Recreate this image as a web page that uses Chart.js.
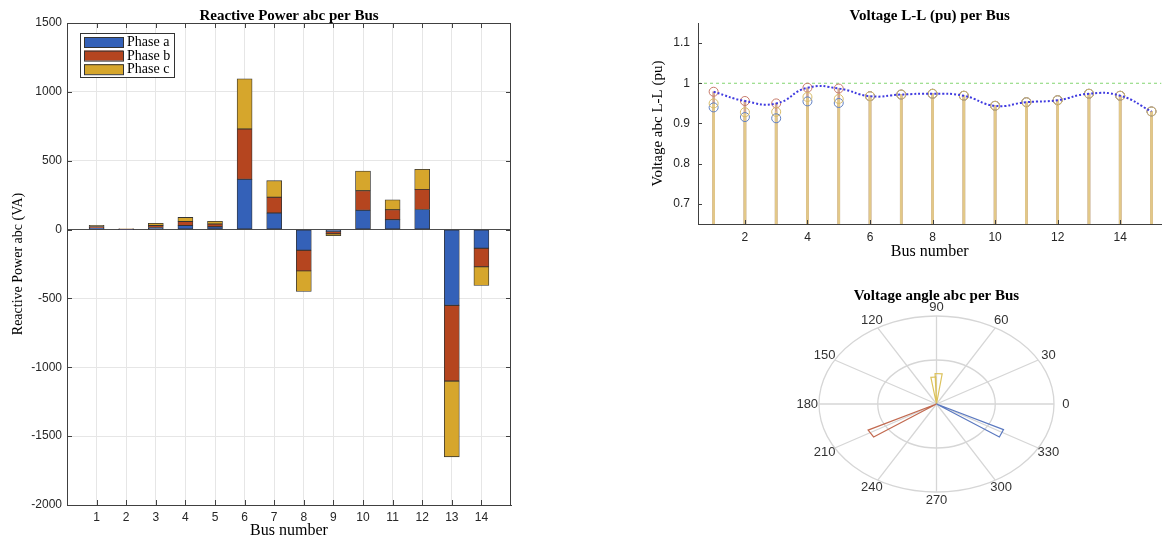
<!DOCTYPE html>
<html><head><meta charset="utf-8">
<script src="https://cdn.jsdelivr.net/npm/chart.js@4.4.1/dist/chart.umd.min.js"></script>
<style>
html,body{margin:0;padding:0;background:#fff;width:1167px;height:540px;overflow:hidden;}
canvas{position:absolute;}
</style></head><body>
<canvas id="c1" width="530" height="540" style="left:0;top:0"></canvas>
<canvas id="c2" width="547" height="270" style="left:620px;top:0"></canvas>
<canvas id="c3" width="320" height="260" style="left:760px;top:280px"></canvas>
<script>
// ---------- DATA ----------
// Reactive power per bus (VA), per phase
const buses   = [1,2,3,4,5,6,7,8,9,10,11,12,13,14];
const qPhaseA = [10, 2, 15, 30, 20, 365, 120, -150, -15, 140, 72, 146, -550, -135];
const qPhaseB = [12, 2, 15, 28, 20, 365, 115, -150, -15, 142, 72, 146, -550, -135];
const qPhaseC = [ 8, 1, 15, 30, 20, 365, 120, -150, -15, 143, 72, 146, -550, -135];
const qTicks  = [-2000,-1500,-1000,-500,0,500,1000,1500];
const phaseLabels = ['Phase a','Phase b','Phase c'];

// Voltage L-L (pu) per bus, per phase
const vBuses  = [1,2,3,4,5,6,7,8,9,10,11,12,13,14,15];
const vPhaseA = [0.940,0.916,0.913,0.955,0.951,0.968,0.972,0.974,0.969,0.944,0.953,0.958,0.974,0.969,0.930];
const vPhaseB = [0.979,0.956,0.950,0.989,0.987,0.968,0.972,0.974,0.969,0.944,0.953,0.958,0.974,0.969,0.930];
const vPhaseC = [0.950,0.928,0.929,0.966,0.961,0.968,0.972,0.974,0.969,0.944,0.953,0.958,0.974,0.969,0.930];
const vTicksX = [2,4,6,8,10,12,14];
const vTicksY = [0.7,0.8,0.9,1,1.1];
const vNominal = 1.0;

// Voltage angle compass (degrees, magnitude)
const angleTicks = [0,30,60,90,120,150,180,210,240,270,300,330];
const angA = [-27, -35], magA = [0.96, 0.98];
const angB = [207, 215], magB = [0.98, 0.98];
const angC = [82, 92, 91, 99], magC = [0.52, 0.52, 0.46, 0.46];
const compassRings = [0.75, 1.5];

// ---------- STYLE ----------
const COL_A = '#3461b8', COL_B = '#b5451f', COL_C = '#d6a62c';
const SANS = 'Liberation Sans', SERIF = 'Liberation Serif';
Chart.defaults.font.family = SANS;
Chart.defaults.color = '#262626';

// ---------- PLUGINS ----------
const areaTitle = {
  id: 'areaTitle',
  afterDraw(chart, args, o) {
    if (!o || !o.text) return;
    const {ctx, chartArea: a} = chart;
    ctx.save();
    ctx.font = 'bold 15px "' + SERIF + '"';
    ctx.fillStyle = '#000';
    ctx.textAlign = 'center'; ctx.textBaseline = 'middle';
    ctx.fillText(o.text, (a.left + a.right) / 2, o.y);
    ctx.restore();
  }
};

const frameTicks = {
  id: 'frameTicks',
  afterDatasetsDraw(chart, args, o) {
    if (!o || !o.enabled) return;
    const {ctx, chartArea: a, scales: {x, y}} = chart;
    const L = o.len;
    ctx.save();
    ctx.strokeStyle = o.color; ctx.lineWidth = 1;
    ctx.beginPath();
    if (o.box) {
      ctx.moveTo(a.left, a.top + 0.5); ctx.lineTo(a.right, a.top + 0.5);
      ctx.moveTo(a.right - 0.5, a.top); ctx.lineTo(a.right - 0.5, a.bottom);
    }
    x.ticks.forEach(t => {
      const px = Math.round(x.getPixelForValue(t.value)) + 0.5;
      ctx.moveTo(px, a.bottom); ctx.lineTo(px, a.bottom - L);
      if (o.box) { ctx.moveTo(px, a.top); ctx.lineTo(px, a.top + L); }
    });
    y.ticks.forEach(t => {
      const py = Math.round(y.getPixelForValue(t.value)) + 0.5;
      ctx.moveTo(a.left, py); ctx.lineTo(a.left + L, py);
      if (o.box) { ctx.moveTo(a.right, py); ctx.lineTo(a.right - L, py); }
    });
    ctx.stroke();
    ctx.restore();
  }
};

const boxLegend = {
  id: 'boxLegend',
  afterDraw(chart, args, o) {
    if (!o || !o.enabled) return;
    const {ctx} = chart;
    ctx.save();
    ctx.fillStyle = '#fff';
    ctx.fillRect(o.x, o.y, o.w, o.h);
    ctx.strokeStyle = '#333'; ctx.lineWidth = 1;
    ctx.strokeRect(o.x + 0.5, o.y + 0.5, o.w, o.h);
    ctx.font = '14px "' + SERIF + '"';
    ctx.textAlign = 'left'; ctx.textBaseline = 'middle';
    chart.data.datasets.forEach((ds, i) => {
      const cy = o.y + o.first + i * o.step;
      ctx.fillStyle = ds.backgroundColor;
      ctx.fillRect(o.x + 4, cy - 5, 39, 10);
      ctx.strokeStyle = '#333';
      ctx.strokeRect(o.x + 4.5, cy - 4.5, 39, 10);
      ctx.fillStyle = '#000';
      ctx.fillText(ds.label, o.x + 47, cy + 0.5);
    });
    ctx.restore();
  }
};

const polarGrid = {
  id: 'polarGrid',
  beforeDatasetsDraw(chart, args, o) {
    if (!o || !o.enabled) return;
    const {ctx, scales: {x, y}} = chart;
    const cx = x.getPixelForValue(0), cy = y.getPixelForValue(0);
    ctx.save();
    ctx.strokeStyle = '#d6d6d6'; ctx.lineWidth = 1.3;
    o.rings.forEach(r => {
      const rx = x.getPixelForValue(r) - cx, ry = cy - y.getPixelForValue(r);
      ctx.beginPath(); ctx.ellipse(cx, cy, rx, ry, 0, 0, Math.PI * 2); ctx.stroke();
    });
    const rMax = Math.max(...o.rings);
    o.angles.forEach(d => {
      const t = d * Math.PI / 180;
      ctx.beginPath(); ctx.moveTo(cx, cy);
      ctx.lineTo(x.getPixelForValue(rMax * Math.cos(t)), y.getPixelForValue(rMax * Math.sin(t)));
      ctx.stroke();
    });
    ctx.fillStyle = '#333';
    ctx.font = '13px "' + SANS + '"';
    ctx.textAlign = 'center'; ctx.textBaseline = 'middle';
    o.angles.forEach(d => {
      const t = d * Math.PI / 180;
      ctx.fillText(String(d), x.getPixelForValue(1.1 * rMax * Math.cos(t)), y.getPixelForValue(1.1 * rMax * Math.sin(t)));
    });
    ctx.restore();
  }
};

const noInteract = {responsive: false, animation: false, devicePixelRatio: 1, events: []};

// ---------- CHART 1: Reactive power ----------
function barDs(label, vals, color) {
  return {label, data: buses.map((b, i) => ({x: b, y: vals[i]})), backgroundColor: color,
    borderColor: '#333', borderWidth: 0.8, borderSkipped: false, barThickness: 15};
}
new Chart(document.getElementById('c1'), {
  type: 'bar',
  data: {datasets: [barDs(phaseLabels[0], qPhaseA, COL_A), barDs(phaseLabels[1], qPhaseB, COL_B), barDs(phaseLabels[2], qPhaseC, COL_C)]},
  options: Object.assign({}, noInteract, {
    layout: {padding: {top: 23, right: 19, left: 0, bottom: 0}},
    plugins: {
      legend: {display: false}, tooltip: {enabled: false},
      areaTitle: {text: 'Reactive Power abc per Bus', y: 16},
      frameTicks: {enabled: true, box: true, len: 5, color: '#404040'},
      boxLegend: {enabled: true, x: 80, y: 33, w: 94, h: 44, first: 9, step: 13.6}
    },
    scales: {
      x: {type: 'linear', min: 0, max: 15, stacked: true, offset: false,
        afterBuildTicks: s => { s.ticks = buses.map(v => ({value: v})); },
        afterFit: s => { s.height = 35; },
        grid: {color: '#e6e6e6', drawTicks: false, offset: false},
        border: {color: '#404040'},
        ticks: {padding: 5, color: '#262626', font: {size: 12}, callback: v => String(v), maxRotation: 0, autoSkip: false},
        title: {display: true, text: 'Bus number', color: '#000', font: {family: SERIF, size: 16}, padding: 0}},
      y: {type: 'linear', min: -2000, max: 1500, stacked: true,
        afterBuildTicks: s => { s.ticks = qTicks.map(v => ({value: v})); },
        afterFit: s => { s.width = 67; },
        grid: {color: c => (c.tick && c.tick.value === 0) ? '#4d4d4d' : '#e6e6e6', drawTicks: false},
        border: {color: '#404040'},
        ticks: {padding: 5, color: '#262626', font: {size: 12}, callback: v => String(v)},
        title: {display: true, text: 'Reactive Power abc (VA)', color: '#000', font: {family: SERIF, size: 14}, padding: {top: 10, bottom: 0}}}
    }
  }),
  plugins: [areaTitle, frameTicks, boxLegend]
});

// ---------- CHART 2: Voltage ----------
const vYMin = 0.65, vYMax = 1.15, vXMin = 0.5, vXMax = 15.32;
const pts = vals => vBuses.map((b, i) => ({x: b, y: vals[i]}));
const stems = vals => vBuses.map((b, i) => ({x: b, y: [vYMin, vals[i]]}));
function circ(vals, color, order) {
  return {type: 'scatter', data: pts(vals), pointStyle: 'circle', pointRadius: 4.5, pointBorderWidth: 1,
    pointBorderColor: color, pointBackgroundColor: 'rgba(0,0,0,0)', showLine: false, order};
}
function stem(vals, color, order) {
  return {type: 'bar', data: stems(vals), backgroundColor: color, borderWidth: 0, barThickness: 2, grouped: false, order};
}
new Chart(document.getElementById('c2'), {
  type: 'scatter',
  data: {datasets: [
    {type: 'line', data: pts(vPhaseB), borderColor: '#3f3ae0', borderWidth: 2, borderDash: [2, 2], tension: 0.5, pointRadius: 0, fill: false, order: 0},
    circ(vPhaseC, '#d8bb66', 1),
    circ(vPhaseA, '#5f7fc2', 2),
    circ(vPhaseB, '#c77a6a', 3),
    stem(vPhaseC, '#e2c888', 4),
    stem(vPhaseB, '#d2a892', 5),
    stem(vPhaseA, '#aab6d6', 6),
    {type: 'line', data: [{x: vXMin, y: vNominal}, {x: vXMax, y: vNominal}], borderColor: '#97dc88', borderWidth: 1.2, borderDash: [3, 3], pointRadius: 0, fill: false, order: 7}
  ]},
  options: Object.assign({}, noInteract, {
    layout: {padding: {top: 23, right: 0, left: 0, bottom: 0}},
    plugins: {
      legend: {display: false}, tooltip: {enabled: false},
      areaTitle: {text: 'Voltage L-L (pu) per Bus', y: 16},
      frameTicks: {enabled: true, box: false, len: 4, color: '#404040'}
    },
    scales: {
      x: {type: 'linear', min: vXMin, max: vXMax, offset: false,
        afterBuildTicks: s => { s.ticks = vTicksX.map(v => ({value: v})); },
        afterFit: s => { s.height = 46; },
        grid: {display: false, drawTicks: false, offset: false},
        border: {color: '#404040'},
        ticks: {padding: 6, color: '#262626', font: {size: 12}, callback: v => String(v), maxRotation: 0, autoSkip: false},
        title: {display: true, text: 'Bus number', color: '#000', font: {family: SERIF, size: 16}, padding: {top: 0, bottom: 9}}},
      y: {type: 'linear', min: vYMin, max: vYMax, beginAtZero: false,
        afterBuildTicks: s => { s.ticks = vTicksY.map(v => ({value: v})); },
        afterFit: s => { s.width = 78; },
        grid: {display: false, drawTicks: false},
        border: {color: '#404040'},
        ticks: {padding: 8, color: '#262626', font: {size: 12}, callback: v => String(v)},
        title: {display: true, text: 'Voltage abc L-L (pu)', color: '#000', font: {family: SERIF, size: 15}, padding: {top: 29, bottom: 0}}}
    }
  }),
  plugins: [areaTitle, frameTicks]
});

// ---------- CHART 3: Voltage angle compass ----------
const R = Math.max(...compassRings);
function wedge(angs, mags) {
  const out = [];
  for (let i = 0; i < angs.length; i += 2) {
    out.push({x: 0, y: 0});
    for (let k = i; k < i + 2; k++) {
      const t = angs[k] * Math.PI / 180;
      out.push({x: mags[k] * Math.cos(t), y: mags[k] * Math.sin(t)});
    }
    out.push({x: 0, y: 0});
  }
  return out;
}
function wedgeDs(angs, mags, color) {
  return {type: 'line', data: wedge(angs, mags), borderColor: color, borderWidth: 1.2, pointRadius: 0, tension: 0, fill: false};
}
new Chart(document.getElementById('c3'), {
  type: 'scatter',
  data: {datasets: [wedgeDs(angA, magA, '#5b79c0'), wedgeDs(angB, magB, '#c26a50'), wedgeDs(angC, magC, '#dcc25c')]},
  options: Object.assign({}, noInteract, {
    layout: {padding: {left: 59, right: 26, top: 36, bottom: 48}},
    plugins: {
      legend: {display: false}, tooltip: {enabled: false},
      areaTitle: {text: 'Voltage angle abc per Bus', y: 16},
      polarGrid: {enabled: true, rings: compassRings, angles: angleTicks}
    },
    scales: {
      x: {type: 'linear', min: -R, max: R, display: false},
      y: {type: 'linear', min: -R, max: R, display: false}
    }
  }),
  plugins: [areaTitle, polarGrid]
});
</script>
</body></html>
